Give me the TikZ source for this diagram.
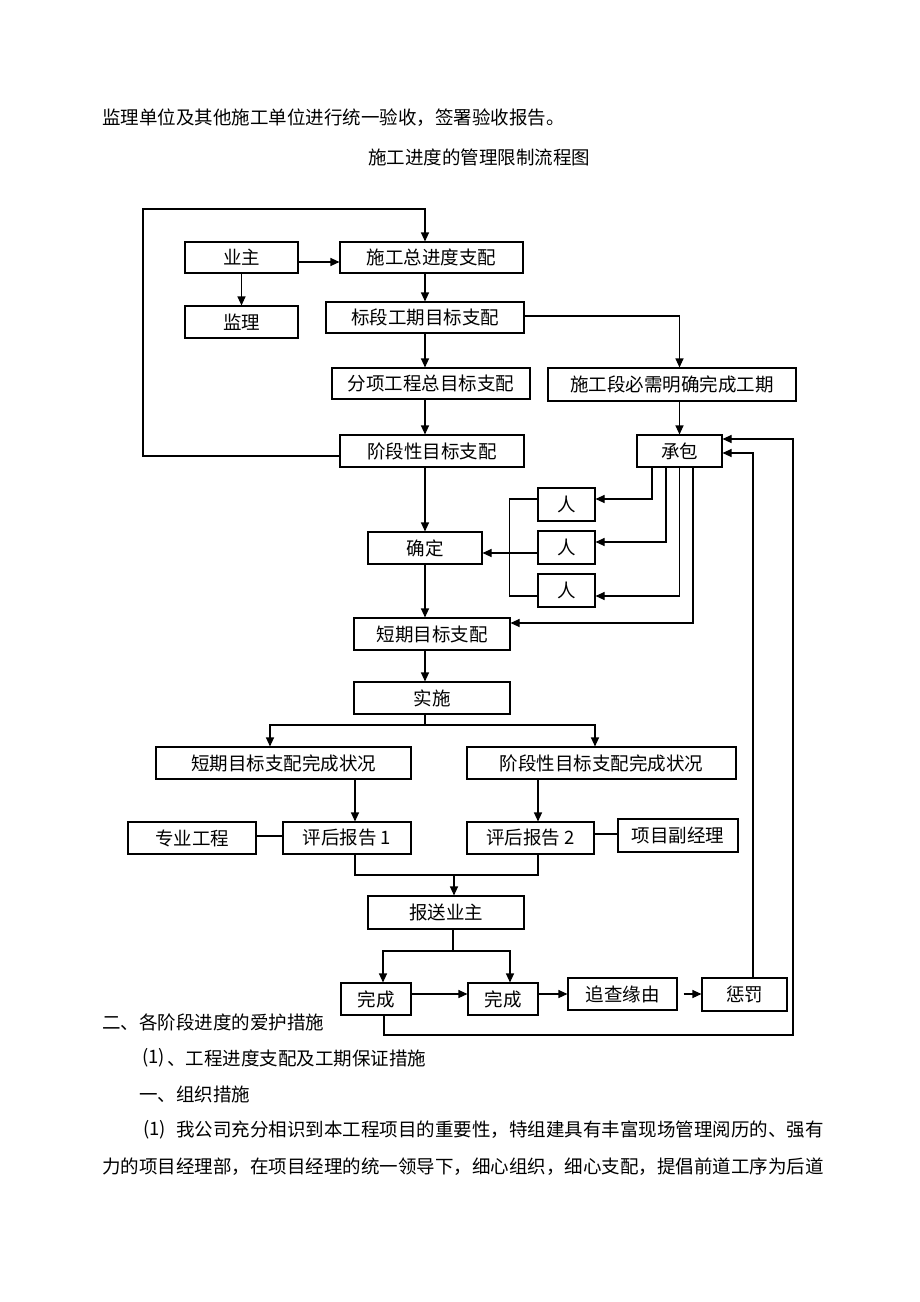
\documentclass[tikz,border=0pt]{standalone}
\usepackage{fontspec}
\setmainfont{Noto Sans CJK SC}
\usetikzlibrary{arrows.meta}
\begin{document}
\begin{tikzpicture}[x=1pt,y=-1pt,
  every node/.style={font=\fontsize{18.5pt}{22pt}\selectfont},
  box/.style={draw, line width=1.1pt, inner sep=0pt, minimum height=32pt},
  ln/.style={line width=1.1pt},
  arr/.style={ln, -{Triangle[length=9pt,width=8pt]}},
  txt/.style={anchor=west, inner sep=0pt}]
\useasboundingbox (0,0) rectangle (920,1302);

% texts
\node[txt] (t1) at (102,118) {监理单位及其他施工单位进行统一验收，签署验收报告。};
\node[inner sep=0pt] (title) at (479,157) {施工进度的管理限制流程图};
\node[txt] (t2) at (102,1022) {二、各阶段进度的爱护措施};
\node[txt] (t3a) at (142,1058) {(1)};
\node[txt] (t3b) at (167,1058) {、工程进度支配及工期保证措施};
\node[txt] (t4) at (139,1094) {一、组织措施};
\node[txt] (t5a) at (143,1130) {(1)};
\node[txt] (t5b) at (176,1130) {我公司充分相识到本工程项目的重要性，特组建具有丰富现场管理阅历的、强有};
\node[txt] (t6) at (102,1167) {力的项目经理部，在项目经理的统一领导下，细心组织，细心支配，提倡前道工序为后道};

% boxes
\node[box,minimum width=113pt,minimum height=31pt] (yz) at (241.5,257.5) {业主};
\node[box,minimum width=183pt,minimum height=31pt] (zong) at (431.5,257.5) {施工总进度支配};
\node[box,minimum width=113pt] (jl) at (241.5,322) {监理};
\node[box,minimum width=198pt,minimum height=31pt] (bd) at (425,317.5) {标段工期目标支配};
\node[box,minimum width=198pt,minimum height=31pt] (fx) at (431,383.5) {分项工程总目标支配};
\node[box,minimum width=248pt,minimum height=33pt] (sgd) at (672,384.5) {施工段必需明确完成工期};
\node[box,minimum width=184pt] (jd) at (432,451) {阶段性目标支配};
\node[box,minimum width=85pt] (cb) at (679.5,451) {承包};
\node[box,minimum width=57pt,minimum height=33pt] (r1) at (566.5,504.5) {人};
\node[box,minimum width=57pt,minimum height=33pt] (r2) at (566.5,547.5) {人};
\node[box,minimum width=57pt,minimum height=33pt] (r3) at (566.5,590.5) {人};
\node[box,minimum width=114pt] (qd) at (425,548) {确定};
\node[box,minimum width=156pt] (dq) at (432,634) {短期目标支配};
\node[box,minimum width=156pt] (ss) at (432,698) {实施};
\node[box,minimum width=255pt] (dqwc) at (283.5,763) {短期目标支配完成状况};
\node[box,minimum width=269pt] (jdwc) at (601.5,763) {阶段性目标支配完成状况};
\node[box,minimum width=128pt] (pg1) at (347,838) {评后报告 1};
\node[box,minimum width=128pt] (zy) at (192,838) {专业工程};
\node[box,minimum width=127pt] (pg2) at (530.5,838) {评后报告 2};
\node[box,minimum width=120pt,minimum height=33pt] (fjl) at (678,835.5) {项目副经理};
\node[box,minimum width=156pt,minimum height=33pt] (bs) at (446,912.5) {报送业主};
\node[box,minimum width=70pt] (wc1) at (376,999) {完成};
\node[box,minimum width=70pt] (wc2) at (503,999) {完成};
\node[box,minimum width=109pt] (zc) at (622.5,994) {追查缘由};
\node[box,minimum width=85pt,minimum height=33pt] (cf) at (744.5,994.5) {惩罚};

% connectors
\coordinate (tl) at (143,209);
\draw[arr] ([yshift=-5pt]jd.west) -| (tl) -| (zong.north -| bd.north);
\draw[arr] ([yshift=-4.5pt]yz.east) -- ([yshift=-4.5pt]zong.west);
\draw[arr] (yz.south) -- (jl.north);
\draw[arr] (zong.south -| bd.north) -- (bd.north);
\draw[arr] (bd.south) -- (fx.north -| bd.south);
\draw[arr] (fx.south -| bd.south) -- (jd.north -| bd.south);
\draw[arr] ([yshift=1.5pt]bd.east) -| (sgd.north -| cb.north);
\draw[arr] (sgd.south -| cb.north) -- (cb.north);
\draw[arr] ([xshift=-27.5pt]cb.south) |- ([yshift=5.5pt]r1.east);
\draw[arr] ([xshift=-13.5pt]cb.south) |- ([yshift=5.5pt]r2.east);
\draw[arr] (cb.south) |- ([yshift=-5.5pt]r3.east);
\draw[arr] ([xshift=13.5pt]cb.south) |- ([yshift=11pt]dq.east);
\draw[ln] ([yshift=5.5pt]r1.west) -- ++(-28,0) |- ([yshift=-5.5pt]r3.west);
\draw[arr] ([yshift=-5.5pt]r2.west) -- ([yshift=-5.5pt]r2.west -| qd.east);
\draw[arr] (jd.south -| qd.north) -- (qd.north);
\draw[arr] (qd.south) -- (dq.north -| qd.south);
\draw[arr] (dq.south -| qd.south) -- (ss.north -| qd.south);
\coordinate (b1) at (425,725);
\draw[ln] (ss.south -| b1) -- (b1);
\draw[arr] (b1) -| ([xshift=-13.5pt]dqwc.north);
\draw[arr] (b1) -| ([xshift=-6.5pt]jdwc.north);
\draw[arr] ([xshift=8pt]pg1.north |- dqwc.south) -- ([xshift=8pt]pg1.north);
\draw[arr] ([xshift=7.5pt]pg2.north |- jdwc.south) -- ([xshift=7.5pt]pg2.north);
\draw[ln] ([yshift=2pt]zy.east) -- ([yshift=2pt]pg1.west);
\draw[ln] ([yshift=4pt]pg2.east) -- ([yshift=4pt]pg2.east -| fjl.west);
\coordinate (b2) at (454,875);
\draw[ln] ([xshift=8pt]pg1.south) |- (b2) -| ([xshift=7.5pt]pg2.south);
\draw[arr] (b2) -- (bs.north -| b2);
\coordinate (b3) at (453,951);
\draw[ln] (bs.south -| b3) -- (b3);
\draw[arr] (b3) -| ([xshift=7pt]wc1.north);
\draw[arr] (b3) -| ([xshift=7pt]wc2.north);
\draw[arr] ([yshift=5pt]wc1.east) -- ([yshift=5pt]wc2.west);
\draw[arr] ([yshift=5pt]wc2.east) -- ([yshift=5pt]wc2.east -| zc.west);
\draw[arr, shorten <=6pt] (zc.east) -- (zc.east -| cf.west);
\draw[arr] ([xshift=8.5pt]cf.north) |- ([yshift=-2pt]cb.east);
\coordinate (b4) at (793,1035);
\draw[arr] ([xshift=8pt]wc1.south) |- (b4) |- ([yshift=12pt]cb.east);
\end{tikzpicture}
\end{document}
